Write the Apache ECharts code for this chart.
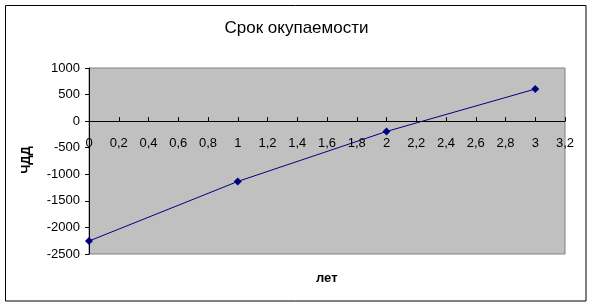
<!DOCTYPE html>
<html><head><meta charset="utf-8">
<script src="https://cdn.jsdelivr.net/npm/echarts@6/dist/echarts.min.js"></script>
<style>html,body{margin:0;padding:0;background:#fff}#c{width:593px;height:307px}</style>
</head><body><div id="c"></div>
<script>
const years = [0, 1, 2, 3];
const npv = [-2256, -1135, -194, 604];
const chartTitle = 'Срок окупаемости';
const xTitle = 'лет';
const yTitle = 'ЧДД';
const yMin = -2500, yMax = 1000, yStep = 500;
const xMin = 0, xMax = 3.2, xStep = 0.2;
const FONT = '"Liberation Sans", Arial, sans-serif';

const gridTop = 68, gridBottom = 53, H = 307;
const gridH = H - gridTop - gridBottom;
const zeroOffset = -gridH * (0 - yMin) / (yMax - yMin);

const chart = echarts.init(document.getElementById('c'), null, {renderer: 'canvas'});
chart.setOption({
  backgroundColor: '#fff',
  animation: false,
  title: {
    text: chartTitle, left: 'center', top: 15,
    textStyle: {fontFamily: FONT, fontSize: 17, fontWeight: 'normal', color: '#000'}
  },
  graphic: [
    {type: 'rect', shape: {x: 5.5, y: 5.5, width: 580.5, height: 295.5}, style: {fill: null, stroke: '#000', lineWidth: 1}, z: -1},
    {type: 'text', left: 316, top: 272, style: {text: xTitle, font: 'bold 13px ' + FONT, fill: '#000'}},
    {type: 'text', x: 26, y: 160, rotation: Math.PI / 2, style: {text: yTitle, font: 'bold 13px ' + FONT, fill: '#000', align: 'center', verticalAlign: 'middle'}}
  ],
  grid: {left: 89, top: gridTop, right: 28, bottom: gridBottom, show: true, backgroundColor: '#C0C0C0', borderColor: '#808080', borderWidth: 1},
  xAxis: {
    type: 'value', min: xMin, max: xMax, interval: xStep,
    position: 'bottom', offset: zeroOffset,
    axisLine: {onZero: false, lineStyle: {color: '#000', width: 1}},
    axisTick: {show: true, inside: true, length: 4, lineStyle: {color: '#000'}},
    splitLine: {show: false},
    axisLabel: {color: '#000', fontFamily: FONT, fontSize: 13, margin: 16,
      formatter: v => String(Math.round(v * 10) / 10).replace('.', ',')}
  },
  yAxis: {
    type: 'value', min: yMin, max: yMax, interval: yStep,
    axisLine: {show: true, onZero: false, lineStyle: {color: '#000', width: 1}},
    axisTick: {show: true, length: 4, lineStyle: {color: '#000'}},
    splitLine: {show: false},
    axisLabel: {color: '#000', fontFamily: FONT, fontSize: 13, margin: 9,
      formatter: v => String(v)}
  },
  series: [{
    type: 'line',
    data: years.map((x, i) => [x, npv[i]]),
    symbol: 'diamond', symbolSize: 8, showSymbol: true,
    lineStyle: {color: '#000080', width: 1},
    itemStyle: {color: '#000080'}
  }]
});
</script></body></html>
